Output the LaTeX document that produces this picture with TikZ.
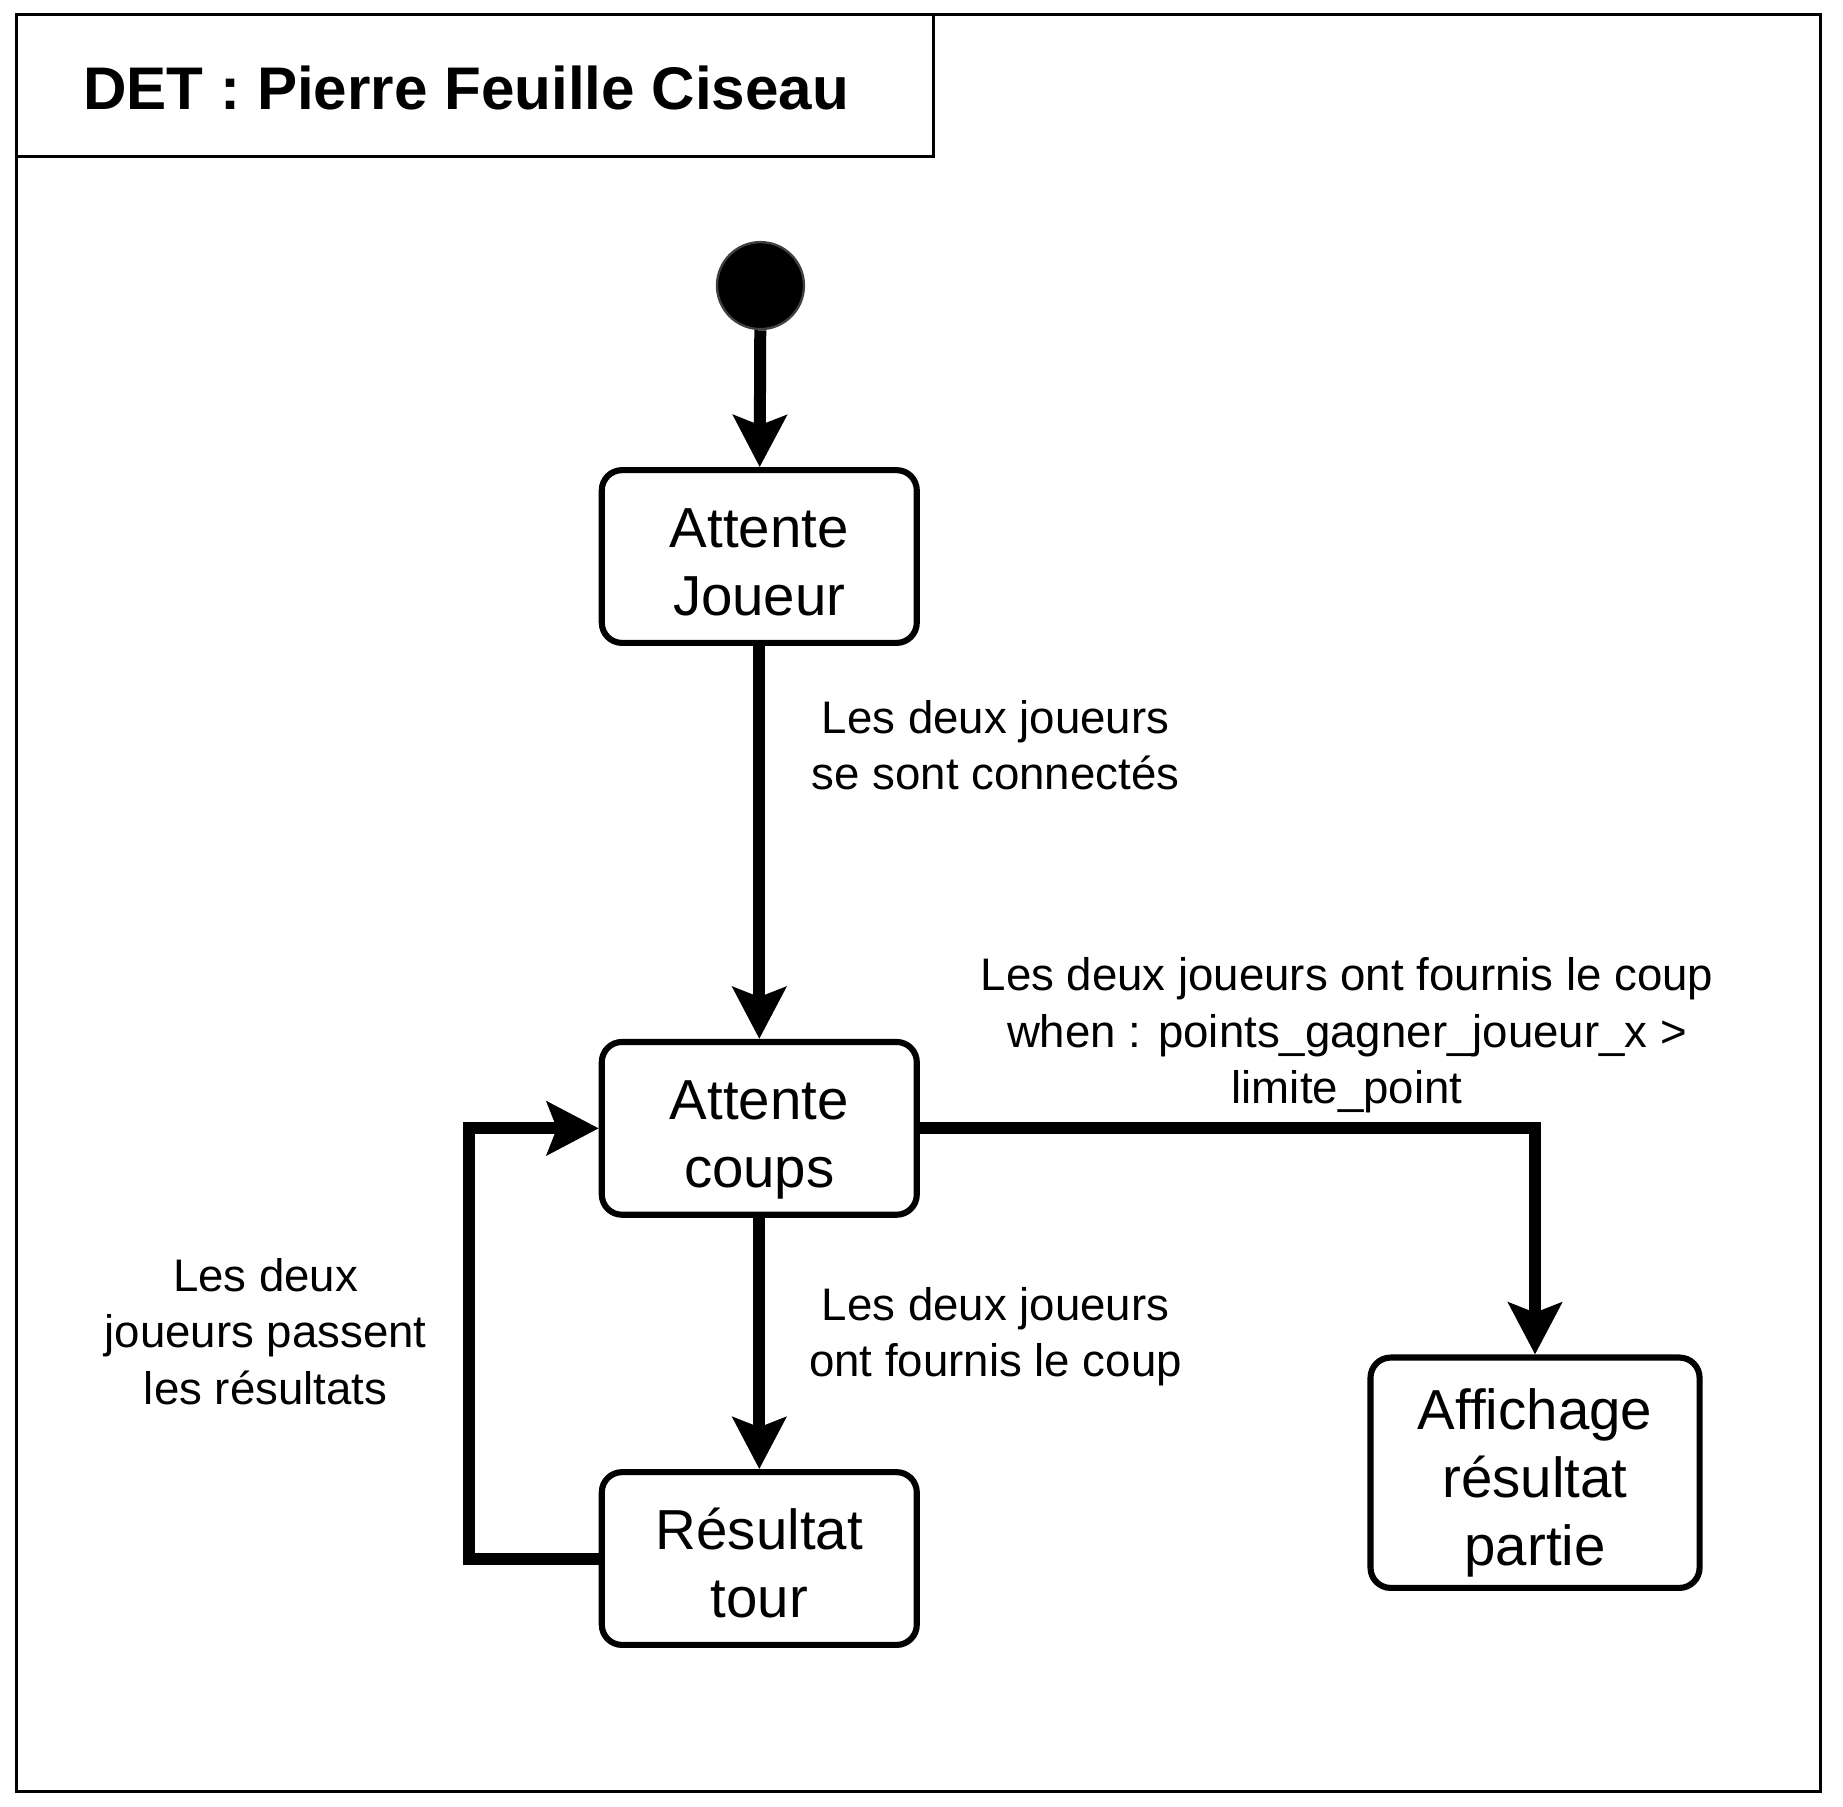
\documentclass[tikz,border=0pt]{standalone}
\usepackage{fontspec}
\setmainfont{Liberation Sans}
\usetikzlibrary{arrows.meta}
\newcommand\eh{\rule{0pt}{13.2pt}}
\newcommand\ed{\rule[-2.6pt]{0pt}{2.6pt}}
\begin{document}
\begin{tikzpicture}[x=0.25pt,y=-0.25pt,>={Stealth[length=11pt,width=11.3pt,inset=2.1pt]},
	etat/.style={draw,line width=1.3pt,rounded corners=4.3pt,minimum width=67pt,minimum height=36.75pt,inner sep=0pt,align=center,font=\fontsize{12}{14.5}\selectfont},
	trans/.style={->,line width=2.55pt},
	lbl/.style={align=center,font=\fontsize{9.7}{12}\selectfont}]
			\useasboundingbox (0,0) rectangle (1568,1537);
			% cadre
			\draw[line width=0.64pt] (14,12) rectangle (1549,1524);
			\draw[line width=0.64pt] (14,12) rectangle (794,133);
			\node[anchor=west,inner sep=0pt,font=\bfseries\fontsize{12.8}{15}\selectfont] (titre) at (70,75) {DET : Pierre Feuille Ciseau};
			% etats
			\node[circle,fill=black,draw=black!75,line width=0.5pt,minimum size=18.5pt,inner sep=0pt] (init) at (647,243) {};
			\node[etat] (aj) at (646,473.5) {\eh Attente\\Joueur\ed};
			\node[etat] (ac) at (646,960) {\eh Attente\\coups\ed};
			\node[etat] (rt) at (646,1326) {\eh Résultat\\tour\ed};
			\node[etat,minimum width=70pt,minimum height=49pt] (arp) at (1306,1253) {\eh Affichage\\résultat\\partie\ed};
			% transitions
			\draw[trans] (init) -- (aj);
			\draw[trans] (aj) -- (ac);
			\draw[trans] (ac) -- (rt);
			\draw[trans] (rt.west) -- ++(-110,0) |- (ac.west);
			\draw[trans] (ac.east) -| (arp.north);
			\node[lbl] (l1) at (847,634) {Les deux joueurs\\se sont connectés};
			\node[lbl] (l2) at (847,1137.5) {Les deux joueurs\\ont fournis le coup};
			\node[lbl] (l3) at (226,1133) {Les deux\\joueurs passent\\les résultats};
			\node[lbl] (l4) at (1146,881) {Les deux joueurs ont fournis le coup\\when : points\_gagner\_joueur\_x >\\limite\_point};
		\end{tikzpicture}
\end{document}
